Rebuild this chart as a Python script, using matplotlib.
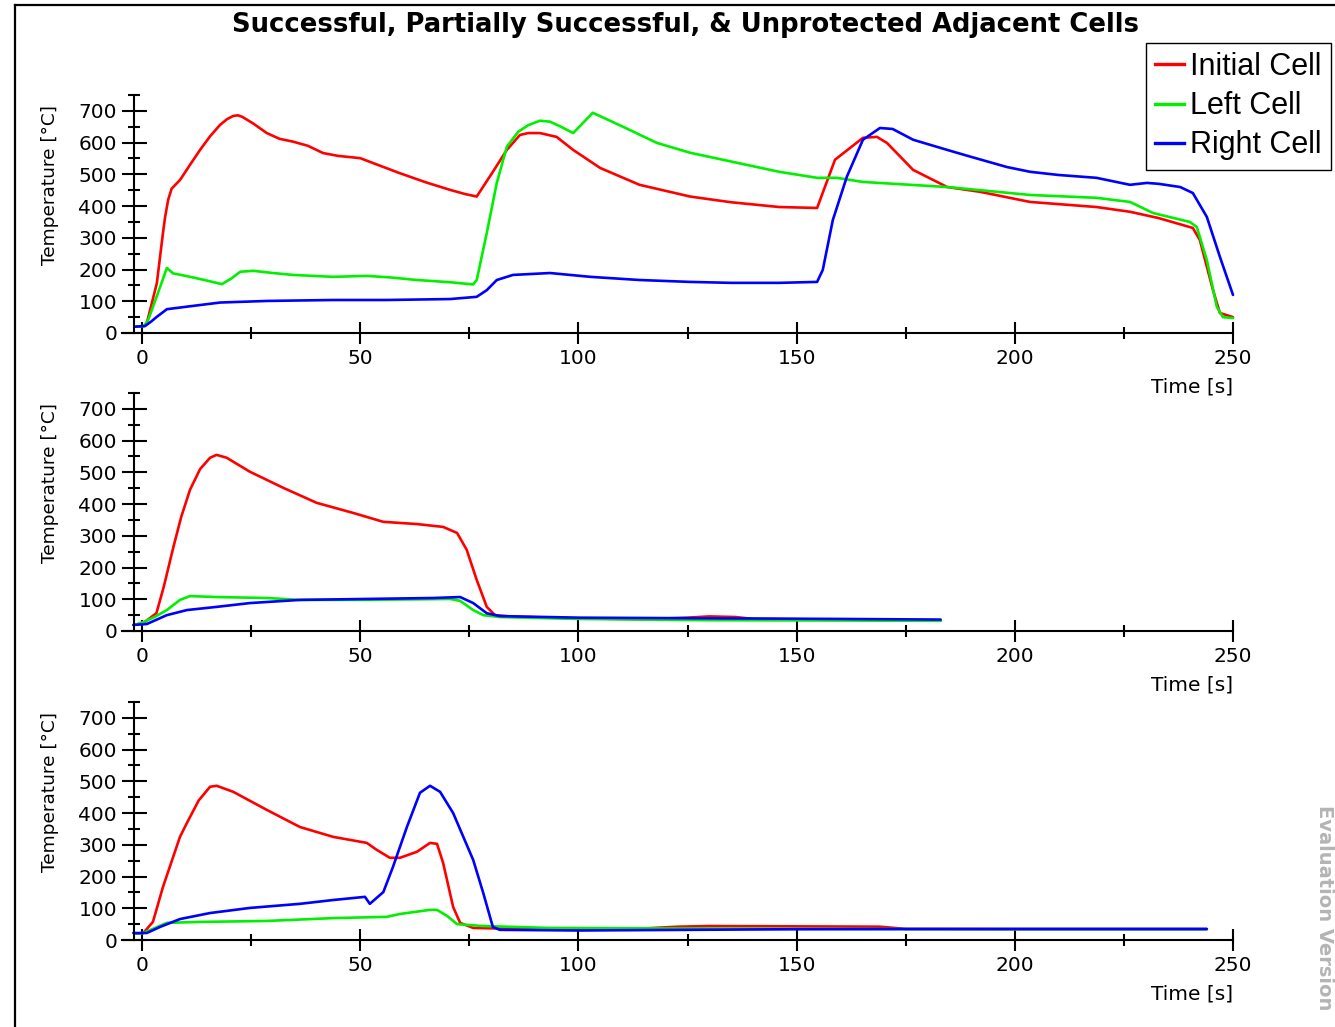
import matplotlib
matplotlib.use("Agg")
import matplotlib.pyplot as plt
from matplotlib.lines import Line2D

# ---------------- data ----------------
title = "Successful, Partially Successful, & Unprotected Adjacent Cells"
series_names = ["Initial Cell", "Left Cell", "Right Cell"]
xticks = [0, 50, 100, 150, 200, 250]
yticks = [0, 100, 200, 300, 400, 500, 600, 700]

# Panel 1 - successful
t1_red = [-1.5, 0.5, 1.1, 3.4, 4.8, 5.3, 6.0, 6.8, 8.7, 11, 13.3, 15.6, 17.9, 19.5, 20.9, 22, 23, 25.5, 28.6,
          31.5, 34.6, 38, 41.5, 45, 50, 54, 59, 65, 70.6, 74, 76.7, 80.4, 83.6, 86.6, 88.5, 91.2, 95, 98.8,
          105, 114, 125.6, 135, 146, 154.7, 158.8, 165.2, 168.4, 170.7, 176.7, 184.5, 192, 203.5, 218.7,
          226.4, 233, 240.8, 242.4, 245.4, 247, 250]
T1_red = [20, 22, 31, 157, 315, 366, 420, 455, 482, 530, 577, 620, 656, 674, 684, 686, 681, 660, 630,
          612, 603, 590, 567, 558, 551, 530, 504, 475, 451, 438, 430, 508, 577, 624, 630, 630, 618, 577,
          520, 467, 430, 412, 397, 394, 546, 615, 618, 599, 514, 460, 445, 413, 397,
          382, 362, 331, 293, 136, 63, 50]
t1_green = [-1.5, 0.5, 1.4, 3.5, 5.7, 7.1, 10, 14, 18.3, 20.5, 22.5, 25.5, 30, 34.6, 43.8, 51.5, 57, 63, 70.6,
            75.9, 76.7, 79, 81.3, 83.6, 86.2, 88.5, 91.2, 93.5, 96, 98.8, 103.3, 110.2, 118, 125.6, 132.4, 146,
            154.7, 159.2, 165.2, 184.5, 203.5, 218.7, 226.4, 231.7, 240.1, 241.7, 244, 246.3, 247.7, 250]
T1_green = [20, 22, 41, 120, 205, 188, 180, 168, 154, 172, 193, 196, 189, 183, 177, 180, 175, 167, 160,
            153, 167, 315, 473, 587, 634, 655, 669, 666, 650, 630, 694, 650, 599, 568, 548, 508,
            489, 489, 476, 460, 435, 426, 413, 378, 350, 334, 230, 82, 50, 47]
t1_blue = [-1.5, 0.7, 2, 3.4, 5.7, 10.3, 17.9, 28.6, 43.8, 56, 70.6, 76.7, 79, 81.3, 85, 93.5, 102.7, 114,
           125.6, 135, 146, 154.7, 156, 158.3, 161.5, 165.2, 169.1, 172, 176.7, 184.5, 190, 198.2, 203.5, 210,
           218.7, 226.4, 230.3, 233, 237.9, 240.8, 244, 247, 250]
T1_blue = [20, 22, 35, 51, 75, 83, 96, 101, 104, 104, 107, 114, 135, 167, 183, 189, 177, 167,
           161, 158, 158, 161, 199, 356, 492, 609, 646, 643, 609, 577, 555, 523, 508, 498,
           489, 467, 473, 470, 460, 441, 366, 240, 120]

# Panel 2 - partially successful
t2_red = [-1.5, 0.3, 3.3, 5, 7.2, 9, 11, 13.3, 15.6, 17.1, 19.4, 24.7, 32.4, 40, 48.4, 55.3, 63, 69, 72.2,
          74.4, 76.7, 79, 80.9, 85, 100, 115, 125, 130, 136, 140, 160, 183]
T2_red = [20, 25, 56, 140, 265, 360, 445, 510, 546, 555, 546, 502, 451, 404, 372, 344, 337, 328, 309,
          256, 161, 76, 50, 45, 40, 37, 42, 46, 44, 38, 36, 33]
t2_green = [-1.5, 0.3, 3, 5.7, 8.7, 11, 17.1, 28.6, 36.2, 51.5, 70.6, 72.9, 75.9, 78.2, 82, 100, 130, 160, 183]
T2_green = [20, 28, 45, 66, 98, 110, 107, 104, 98, 98, 101, 95, 66, 50, 44, 38, 34, 33, 32]
t2_blue = [-2, 1.1, 5.7, 10.3, 17.1, 24.7, 36.2, 51.5, 66.8, 72.9, 75.9, 79, 82, 100, 130, 160, 183]
T2_blue = [19, 22, 50, 66, 76, 88, 98, 101, 104, 107, 88, 56, 47, 42, 40, 38, 36]

# Panel 3 - unprotected
t3_red = [-1.5, 0.3, 2.5, 4.8, 8.7, 10.3, 13, 15.6, 17.1, 20.9, 28.6, 36.2, 43.8, 51.5, 53.8, 56.8, 59.1, 63,
          66, 67.6, 69, 71.3, 72.9, 75.9, 90, 110, 123, 130, 150, 169, 175, 200, 244]
T3_red = [20, 22, 57, 167, 325, 369, 440, 483, 486, 467, 410, 356, 325, 306, 284, 259, 259, 278,
          306, 303, 243, 104, 54, 38, 34, 33, 42, 44, 43, 42, 35, 34, 34]
t3_green = [-1.5, 0.3, 5.7, 13.3, 28.6, 43.8, 56.1, 59.1, 66, 67.6, 69.9, 72.2, 78.2, 93.5, 150, 200, 244]
T3_green = [20, 22, 54, 57, 60, 69, 73, 82, 95, 95, 76, 50, 44, 38, 35, 34, 34]
t3_blue = [-2, 1.1, 4.1, 8.7, 15.6, 24.7, 36.2, 43.8, 51.1, 52.2, 55.3, 57.5, 60.7, 63.7, 66, 68.3, 71.3,
           75.9, 78.2, 80.4, 82, 100, 150, 200, 244]
T3_blue = [22, 22, 41, 66, 85, 101, 114, 126, 136, 114, 151, 230, 356, 464, 486, 467, 400,
           252, 148, 41, 32, 30, 34, 35, 35]

panels = [
    [(t1_red, T1_red), (t1_green, T1_green), (t1_blue, T1_blue)],
    [(t2_red, T2_red), (t2_green, T2_green), (t2_blue, T2_blue)],
    [(t3_red, T3_red), (t3_green, T3_green), (t3_blue, T3_blue)],
]
colors = ["#ff0000", "#00f000", "#0000ff"]

# ---------------- layout ----------------
W, H = 1335, 1027
fig = plt.figure(figsize=(W / 100, H / 100), dpi=100)
plt.rcParams['font.family'] = ['DejaVu Sans']

XMIN, XMAX = -1.9, 250
px_per_unit = (1233 - 142) / 250.0
left_px = 142 + XMIN * px_per_unit
width_px = (XMAX - XMIN) * px_per_unit
bottoms_px = [333, 631, 940]
height_px = 238

tickfs = 14.5
for i, (ax_data, bpx) in enumerate(zip(panels, bottoms_px)):
    ax = fig.add_axes([left_px / W, 1 - bpx / H, width_px / W, height_px / H])
    for (t, T), c in zip(ax_data, colors):
        ax.plot(t, T, color=c, lw=1.9, solid_joinstyle='round', solid_capstyle='round', clip_on=False)
    ax.set_xlim(XMIN, XMAX)
    ax.set_ylim(0, 750)
    for s in ['top', 'right', 'bottom']:
        ax.spines[s].set_visible(False)
    ax.spines['left'].set_linewidth(1.5)
    # x axis line extending left of the y spine
    ax.add_line(Line2D([(122 - left_px) / width_px, 1.0], [0, 0], transform=ax.transAxes,
                       color='black', lw=1.5, clip_on=False))
    ax.set_xticks(xticks)
    ax.set_xticks([25, 75, 125, 175, 225], minor=True)
    ax.set_yticks(yticks)
    ax.set_yticks([50, 150, 250, 350, 450, 550, 650, 750], minor=True)
    ax.tick_params(axis='both', which='major', direction='inout', width=1.5, labelsize=tickfs)
    ax.tick_params(axis='x', which='major', length=16.5, pad=3)
    ax.tick_params(axis='y', which='major', length=18, pad=3)
    ax.tick_params(axis='both', which='minor', direction='inout', width=1.5, length=8)
    ax.patch.set_alpha(0)
    ax.text(-0.076, 0.62, "Temperature [°C]", transform=ax.transAxes, rotation=90,
            ha='center', va='center', fontsize=13.3)
    ax.text(1.0, -0.227, "Time [s]", transform=ax.transAxes, ha='right', va='center',
            fontsize=14.5)

fig.text(685 / W, 1 - 25 / H, title, ha='center', va='center', fontsize=18.6,
         fontweight='bold', family='DejaVu Sans')

handles = [Line2D([], [], color=c, lw=2.4) for c in colors]
fig.legend(handles, series_names, loc='upper left', bbox_to_anchor=(1146 / W, 1 - 43 / H),
           bbox_transform=fig.transFigure, prop={'family': 'Liberation Sans', 'size': 22},
           frameon=True, fancybox=False,
           edgecolor='black', framealpha=1, handlelength=0.95, handletextpad=0.2,
           labelspacing=0.3, borderpad=0.3, borderaxespad=0)

# watermark
fig.text(1334 / W, 1 - 805 / H, "Evaluation Version", rotation=270, ha='right', va='top',
         fontsize=14, fontweight='bold', color='#b4b4b4')

# figure border (left and top)
fig.add_artist(Line2D([15 / W, 15 / W], [-0.01, 1 - 5 / H], transform=fig.transFigure,
                      color='black', lw=1.6))
fig.add_artist(Line2D([15 / W, 1.01], [1 - 5 / H, 1 - 5 / H], transform=fig.transFigure,
                      color='black', lw=1.6))

fig.savefig("out.png", dpi=100)
